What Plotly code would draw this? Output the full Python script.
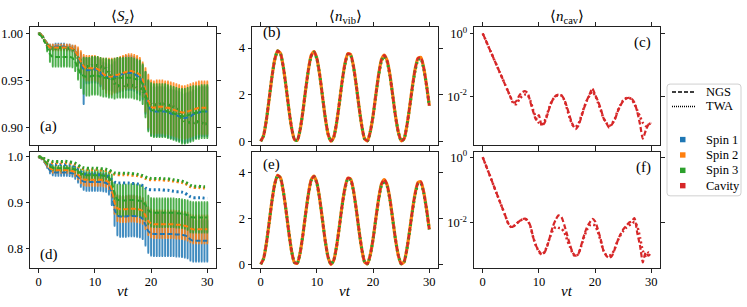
import plotly.graph_objects as go

# ---------------- data ----------------
t = [i * 0.5 for i in range(61)]  # nu*t grid, 0 ... 30

# <S_z>, panel (a)
twa_a = [1.000,0.998,0.993,0.988,0.985,0.984,0.984,0.985,0.985,0.985,
         0.985,0.984,0.983,0.980,0.974,0.969,0.966,0.965,0.965,0.966,
         0.966,0.966,0.965,0.964,0.963,0.959,0.952,0.947,0.945,0.944,
         0.944,0.945,0.945,0.945,0.944,0.943,0.942,0.939,0.933,0.928,
         0.925,0.924,0.924,0.925,0.925,0.925,0.924,0.923,0.922,0.920,
         0.915,0.910,0.907,0.906,0.905,0.905,0.906,0.906,0.905,0.904,
         0.904]
ngs_a1 = [1.000,0.998,0.993,0.988,0.985,0.985,0.986,0.986,0.986,0.986,
          0.985,0.985,0.984,0.981,0.975,0.968,0.962,0.961,0.961,0.962,
          0.962,0.961,0.958,0.955,0.954,0.953,0.953,0.954,0.955,0.956,
          0.957,0.958,0.958,0.958,0.957,0.955,0.953,0.948,0.937,0.924,
          0.918,0.917,0.917,0.917,0.917,0.917,0.916,0.915,0.914,0.913,
          0.912,0.911,0.910,0.911,0.912,0.914,0.915,0.916,0.917,0.917,
          0.917]
ngs_a2 = [1.000,0.998,0.993,0.988,0.985,0.985,0.985,0.985,0.985,0.985,
          0.985,0.985,0.984,0.981,0.976,0.970,0.965,0.963,0.963,0.963,
          0.963,0.962,0.960,0.957,0.955,0.954,0.954,0.955,0.956,0.957,
          0.958,0.959,0.960,0.960,0.959,0.958,0.956,0.951,0.940,0.928,
          0.922,0.921,0.922,0.922,0.922,0.921,0.921,0.920,0.919,0.918,
          0.917,0.916,0.916,0.917,0.918,0.919,0.920,0.921,0.921,0.921,
          0.921]
ngs_a3 = [1.000,0.997,0.992,0.985,0.978,0.975,0.975,0.975,0.975,0.975,
          0.975,0.975,0.974,0.970,0.963,0.957,0.955,0.954,0.954,0.955,
          0.955,0.955,0.954,0.953,0.953,0.952,0.952,0.952,0.953,0.953,
          0.953,0.953,0.953,0.953,0.952,0.951,0.950,0.946,0.935,0.923,
          0.919,0.918,0.918,0.918,0.918,0.918,0.917,0.916,0.915,0.914,
          0.913,0.912,0.912,0.913,0.914,0.915,0.916,0.916,0.917,0.917,
          0.917]
err_a1_up = [0,0,0,0.002,0.003,0.003,0.003,0.003,0.003,0.003,
             0.003,0.003,0.003,0.005,0.008,0.011,0.013,0.013,0.013,0.013,
             0.013,0.013,0.014,0.014,0.014,0.014,0.014,0.016,0.018,0.018,
             0.018,0.018,0.018,0.018,0.018,0.018,0.018,0.018,0.022,0.026,
             0.026,0.026,0.026,0.026,0.026,0.026,0.026,0.026,0.026,0.026,
             0.026,0.026,0.026,0.026,0.026,0.026,0.026,0.026,0.026,0.026,
             0.026]
err_a1_low = [0,0,0,0.002,0.003,0.003,0.003,0.003,0.003,0.003,
              0.003,0.003,0.003,0.005,0.008,0.011,0.037,0.014,0.014,0.014,
              0.014,0.014,0.014,0.014,0.014,0.014,0.014,0.016,0.018,0.018,
              0.018,0.018,0.018,0.018,0.018,0.018,0.018,0.018,0.022,0.026,
              0.026,0.026,0.026,0.026,0.026,0.026,0.026,0.026,0.026,0.026,
              0.026,0.026,0.026,0.026,0.026,0.026,0.026,0.026,0.026,0.026,
              0.026]
err_a2 = [0,0,0,0.002,0.003,0.003,0.003,0.003,0.003,0.003,
          0.003,0.003,0.003,0.006,0.009,0.011,0.012,0.013,0.013,0.013,
          0.013,0.013,0.014,0.016,0.018,0.019,0.019,0.018,0.018,0.018,
          0.018,0.018,0.018,0.018,0.018,0.018,0.018,0.018,0.023,0.028,
          0.028,0.028,0.028,0.028,0.028,0.028,0.028,0.028,0.028,0.028,
          0.028,0.028,0.028,0.028,0.028,0.028,0.028,0.028,0.028,0.028,
          0.028]
err_a3 = [0,0,0,0.004,0.008,0.010,0.010,0.010,0.010,0.010,
          0.010,0.010,0.010,0.010,0.012,0.015,0.019,0.020,0.020,0.020,
          0.020,0.020,0.020,0.020,0.020,0.020,0.020,0.021,0.021,0.021,
          0.021,0.021,0.021,0.021,0.021,0.021,0.021,0.021,0.024,0.027,
          0.028,0.028,0.028,0.028,0.028,0.028,0.028,0.028,0.028,0.028,
          0.028,0.029,0.029,0.029,0.029,0.029,0.028,0.028,0.028,0.028,
          0.028]

# <S_z>, panel (d)
twa_d1 = [1.000,0.998,0.994,0.989,0.985,0.983,0.983,0.983,0.983,0.983,
          0.982,0.982,0.981,0.978,0.973,0.967,0.963,0.962,0.962,0.962,
          0.962,0.961,0.961,0.960,0.959,0.956,0.950,0.945,0.943,0.943,
          0.943,0.943,0.943,0.942,0.942,0.941,0.940,0.937,0.932,0.929,
          0.928,0.928,0.928,0.928,0.928,0.927,0.927,0.926,0.925,0.924,
          0.924,0.923,0.921,0.917,0.913,0.911,0.911,0.911,0.911,0.910,
          0.910]
twa_d2 = [1.000,0.998,0.995,0.991,0.988,0.987,0.987,0.987,0.987,0.987,
          0.987,0.986,0.985,0.983,0.979,0.975,0.973,0.972,0.972,0.972,
          0.972,0.972,0.971,0.971,0.970,0.968,0.965,0.962,0.961,0.961,
          0.961,0.961,0.961,0.960,0.960,0.959,0.958,0.956,0.953,0.951,
          0.950,0.950,0.950,0.950,0.950,0.949,0.949,0.948,0.947,0.946,
          0.945,0.944,0.942,0.939,0.935,0.933,0.933,0.933,0.932,0.932,
          0.932]
twa_d3 = [1.000,0.999,0.996,0.993,0.991,0.990,0.990,0.990,0.990,0.990,
          0.990,0.989,0.988,0.986,0.982,0.978,0.976,0.975,0.975,0.975,
          0.975,0.975,0.974,0.974,0.973,0.971,0.968,0.965,0.964,0.964,
          0.964,0.964,0.964,0.963,0.963,0.962,0.961,0.959,0.956,0.954,
          0.953,0.953,0.953,0.953,0.953,0.952,0.952,0.951,0.950,0.949,
          0.948,0.947,0.945,0.942,0.938,0.936,0.936,0.936,0.935,0.935,
          0.935]
ngs_d1 = [1.000,0.996,0.989,0.979,0.970,0.967,0.966,0.966,0.966,0.966,
          0.966,0.965,0.964,0.961,0.956,0.950,0.946,0.945,0.945,0.945,
          0.945,0.945,0.945,0.944,0.943,0.938,0.920,0.885,0.872,0.870,
          0.870,0.870,0.871,0.871,0.871,0.870,0.869,0.865,0.852,0.838,
          0.833,0.832,0.832,0.832,0.832,0.832,0.832,0.832,0.832,0.831,
          0.831,0.830,0.829,0.826,0.820,0.817,0.817,0.817,0.817,0.817,
          0.817]
ngs_d2 = [1.000,0.997,0.990,0.982,0.975,0.972,0.971,0.971,0.971,0.971,
          0.971,0.970,0.969,0.966,0.961,0.955,0.951,0.950,0.950,0.950,
          0.950,0.950,0.950,0.949,0.948,0.944,0.930,0.900,0.888,0.886,
          0.886,0.886,0.887,0.887,0.887,0.886,0.885,0.882,0.872,0.860,
          0.855,0.853,0.853,0.853,0.853,0.853,0.853,0.853,0.853,0.852,
          0.852,0.851,0.850,0.848,0.844,0.842,0.842,0.842,0.842,0.842,
          0.842]
ngs_d3 = [1.000,0.998,0.992,0.985,0.979,0.976,0.975,0.975,0.975,0.975,
          0.975,0.975,0.974,0.972,0.968,0.964,0.961,0.960,0.960,0.960,
          0.960,0.960,0.960,0.959,0.958,0.955,0.945,0.920,0.907,0.905,
          0.905,0.905,0.906,0.906,0.906,0.905,0.904,0.902,0.895,0.884,
          0.879,0.878,0.878,0.878,0.878,0.878,0.878,0.878,0.878,0.877,
          0.877,0.876,0.875,0.873,0.869,0.868,0.868,0.868,0.868,0.868,
          0.868]
err_d1 = [0,0,0,0.003,0.006,0.007,0.007,0.007,0.007,0.007,
          0.007,0.007,0.007,0.009,0.012,0.015,0.018,0.019,0.019,0.019,
          0.019,0.019,0.019,0.019,0.019,0.020,0.025,0.035,0.043,0.044,
          0.044,0.044,0.044,0.044,0.044,0.044,0.044,0.044,0.045,0.047,
          0.048,0.048,0.048,0.048,0.048,0.048,0.048,0.048,0.048,0.048,
          0.048,0.048,0.048,0.047,0.046,0.045,0.045,0.045,0.045,0.045,
          0.045]
err_d2 = [0,0,0,0.003,0.005,0.006,0.006,0.006,0.006,0.006,
          0.006,0.006,0.006,0.008,0.010,0.012,0.013,0.013,0.013,0.013,
          0.013,0.013,0.013,0.013,0.013,0.014,0.018,0.024,0.028,0.028,
          0.028,0.028,0.028,0.028,0.028,0.028,0.028,0.028,0.029,0.030,
          0.030,0.030,0.030,0.030,0.030,0.030,0.030,0.030,0.030,0.030,
          0.030,0.030,0.030,0.030,0.030,0.030,0.030,0.030,0.030,0.030,
          0.030]
err_d3 = [0,0,0,0.002,0.004,0.005,0.005,0.005,0.005,0.005,
          0.005,0.005,0.005,0.006,0.007,0.008,0.009,0.010,0.010,0.010,
          0.010,0.010,0.010,0.010,0.010,0.011,0.016,0.024,0.032,0.034,
          0.034,0.034,0.034,0.034,0.034,0.034,0.034,0.034,0.033,0.031,
          0.031,0.031,0.031,0.031,0.031,0.031,0.031,0.031,0.031,0.031,
          0.031,0.031,0.031,0.032,0.033,0.033,0.033,0.033,0.033,0.033,
          0.033]

# <n_vib>, panels (b) and (e)
nvib_ngs = [0.00,0.24,0.90,1.81,2.76,3.51,3.88,3.78,3.22,2.36,
            1.40,0.57,0.08,0.04,0.48,1.27,2.22,3.09,3.69,3.85,
            3.55,2.85,1.92,0.99,0.30,0.00,0.18,0.78,1.65,2.59,
            3.34,3.76,3.72,3.23,2.41,1.47,0.64,0.10,0.02,0.41,
            1.11,2.02,2.88,3.51,3.70,3.46,2.84,1.96,1.06,0.38,
            0.02,0.10,0.65,1.46,2.36,3.12,3.57,3.60,3.16,2.42,
            1.53]
nvib_twa = [0.00,0.24,0.90,1.81,2.76,3.50,3.87,3.77,3.21,2.36,
            1.40,0.57,0.08,0.04,0.48,1.27,2.21,3.07,3.66,3.82,
            3.53,2.84,1.92,0.99,0.30,0.00,0.18,0.78,1.64,2.57,
            3.30,3.72,3.68,3.20,2.40,1.47,0.64,0.10,0.02,0.41,
            1.10,2.00,2.84,3.45,3.64,3.41,2.81,1.95,1.06,0.38,
            0.02,0.10,0.64,1.44,2.32,3.06,3.50,3.54,3.12,2.40,
            1.52]

# <n_cav>, panels (c) and (f): log10 of the values read on the log axis
cav_c_ngs_log10 = [0.00,-0.20,-0.41,-0.61,-0.82,-1.02,-1.23,-1.43,-1.64,-1.84,
                   -2.05,-2.20,-2.15,-1.98,-1.88,-1.84,-1.90,-2.20,-2.50,-2.75,
                   -2.60,-2.95,-2.85,-2.60,-2.30,-2.10,-1.98,-1.95,-1.97,-2.10,
                   -2.35,-2.65,-2.90,-3.05,-2.95,-2.70,-2.40,-2.15,-1.95,-1.75,
                   -1.95,-2.15,-2.40,-2.70,-2.85,-3.00,-2.90,-2.75,-2.50,-2.30,
                   -2.15,-2.08,-2.05,-2.08,-2.20,-2.50,-2.90,-3.35,-3.10,-2.90,
                   -2.85]
cav_c_twa_log10 = [0.00,-0.20,-0.41,-0.61,-0.82,-1.02,-1.23,-1.43,-1.64,-1.84,
                   -2.05,-2.25,-2.25,-2.10,-2.00,-1.95,-1.97,-2.15,-2.45,-2.70,
                   -2.85,-2.90,-2.80,-2.55,-2.28,-2.10,-2.00,-1.97,-1.98,-2.12,
                   -2.40,-2.70,-2.92,-2.98,-2.90,-2.65,-2.38,-2.15,-1.98,-1.85,
                   -1.98,-2.20,-2.45,-2.70,-2.85,-2.95,-2.88,-2.72,-2.48,-2.28,
                   -2.13,-2.06,-2.05,-2.10,-2.25,-2.45,-2.65,-2.85,-2.95,-2.90,
                   -2.85]
cav_f_ngs_log10 = [0.00,-0.22,-0.44,-0.66,-0.89,-1.11,-1.33,-1.55,-1.77,-2.00,
                   -2.12,-2.10,-2.02,-1.95,-1.89,-1.87,-1.92,-2.10,-2.45,-2.70,
                   -2.85,-2.97,-2.90,-2.70,-2.40,-2.10,-1.90,-1.77,-1.82,-2.05,
                   -2.35,-2.65,-2.90,-3.00,-2.95,-2.70,-2.40,-2.15,-2.00,-1.88,
                   -1.95,-2.20,-2.50,-2.85,-3.00,-3.07,-3.00,-2.80,-2.55,-2.35,
                   -2.20,-2.10,-2.00,-1.95,-1.85,-2.30,-2.70,-3.20,-2.90,-3.00,
                   -2.90]
cav_f_twa_log10 = [0.00,-0.22,-0.44,-0.66,-0.89,-1.11,-1.33,-1.55,-1.77,-2.00,
                   -2.12,-2.10,-2.02,-1.95,-1.90,-1.88,-1.93,-2.12,-2.45,-2.70,
                   -2.88,-2.95,-2.88,-2.68,-2.42,-2.22,-2.12,-2.15,-2.17,-2.28,
                   -2.50,-2.72,-2.92,-3.02,-2.95,-2.72,-2.45,-2.22,-2.08,-2.05,
                   -2.08,-2.28,-2.55,-2.85,-2.98,-3.00,-2.95,-2.78,-2.55,-2.38,
                   -2.25,-2.15,-2.08,-2.03,-1.97,-2.10,-2.45,-2.85,-3.00,-2.90,
                   -2.95]

x_ticks = [0, 10, 20, 30]
series_names = ["Spin 1", "Spin 2", "Spin 3", "Cavity"]
method_names = ["NGS", "TWA"]
panel_labels = ["(a)", "(b)", "(c)", "(d)", "(e)", "(f)"]
titles = ["⟨<i>S<sub>z</sub></i>⟩", "⟨<i>n</i><sub>vib</sub>⟩", "⟨<i>n</i><sub>cav</sub>⟩"]

# ---------------- styling ----------------
C = ["#1f77b4", "#ff7f0e", "#2ca02c", "#d62728"]
C_ERR = ["rgba(31,119,180,0.85)", "rgba(255,127,14,0.85)", "rgba(44,160,44,0.85)"]
FONT = "Liberation Serif"
DASH = "5px,2.5px"
DOT = "2px,2.6px"
W, H = 747, 307

def fx(px):
    return px / W

def fy(px):
    return 1 - px / H

colx = [(30, 216), (252, 438), (474, 660)]
rowy = [(24.3, 145.3), (151.7, 270.7)]

fig = go.Figure()

def add_line(ax, x, y, color, dash, width):
    fig.add_trace(go.Scatter(x=x, y=y, xaxis="x" + ax, yaxis="y" + ax, mode="lines",
                             line=dict(color=color, dash=dash, width=width, shape="spline", smoothing=0.6),
                             showlegend=False, hoverinfo="skip"))

def add_err(ax, x, y, err_up, err_low, color):
    fig.add_trace(go.Scatter(x=x, y=y, xaxis="x" + ax, yaxis="y" + ax, mode="markers",
                             marker=dict(size=2, color="rgba(0,0,0,0)"),
                             error_y=dict(type="data", symmetric=False, array=err_up, arrayminus=err_low,
                                          visible=True, color=color, thickness=2, width=0.8),
                             showlegend=False, hoverinfo="skip"))

# panel (a)
add_err("", t, ngs_a1, err_a1_up, err_a1_low, C_ERR[0])
add_err("", t, ngs_a2, err_a2, err_a2, C_ERR[1])
add_err("", t, ngs_a3, err_a3, err_a3, C_ERR[2])
for c in C[:3]:
    add_line("", t, twa_a, c, DOT, 3)
for y, c in zip([ngs_a1, ngs_a2, ngs_a3], C[:3]):
    add_line("", t, y, c, DASH, 2)

# panel (d)
for y, e, c in zip([ngs_d1, ngs_d2, ngs_d3], [err_d1, err_d2, err_d3], C_ERR):
    add_err("4", t, y, e, e, c)
for y, c in zip([twa_d1, twa_d2, twa_d3], C[:3]):
    add_line("4", t, y, c, DOT, 3)
for y, c in zip([ngs_d1, ngs_d2, ngs_d3], C[:3]):
    add_line("4", t, y, c, DASH, 2)

# panels (b), (e)
for ax in ["2", "5"]:
    add_line(ax, t, nvib_ngs, C[1], "solid", 3.2)
    add_line(ax, t, nvib_twa, C[2], DOT, 3)
    add_line(ax, t, nvib_ngs, C[3], DASH, 2.2)

# panels (c), (f)
for ax, ngs, twa in [("3", cav_c_ngs_log10, cav_c_twa_log10), ("6", cav_f_ngs_log10, cav_f_twa_log10)]:
    add_line(ax, t, [10 ** v for v in twa], C[3], DOT, 2.5)
    add_line(ax, t, [10 ** v for v in ngs], C[3], DASH, 2.2)

axis_common = dict(showline=True, linecolor="#222", linewidth=1, mirror="allticks",
                   ticks="outside", ticklen=3.5, tickwidth=1, tickcolor="#222",
                   showgrid=False, zeroline=False,
                   tickfont=dict(family=FONT, size=12.5, color="black"))

layout = dict(width=W, height=H, margin=dict(l=0, r=0, t=0, b=0),
              paper_bgcolor="white", plot_bgcolor="white", showlegend=False,
              font=dict(family=FONT, color="black"))

yspec = {
    "": dict(range=[0.881, 1.007], tickvals=[0.90, 0.95, 1.00], tickformat=".2f"),
    "2": dict(range=[-0.18, 4.91], tickvals=[0, 2, 4]),
    "3": dict(type="log", range=[-3.57, 0.21], tickvals=[1, 0.01], ticktext=["10<sup>0</sup>", "10<sup>-2</sup>"]),
    "4": dict(range=[0.757, 1.011], tickvals=[0.8, 0.9, 1.0], tickformat=".1f"),
    "5": dict(range=[-0.18, 4.91], tickvals=[0, 2, 4]),
    "6": dict(type="log", range=[-3.385, 0.167], tickvals=[1, 0.01], ticktext=["10<sup>0</sup>", "10<sup>-2</sup>"]),
}
axes = ["", "2", "3", "4", "5", "6"]
for i, ax in enumerate(axes):
    r, c = divmod(i, 3)
    x0, x1 = colx[c]
    y0, y1 = rowy[r]
    layout["xaxis" + ax] = dict(axis_common, domain=[fx(x0), fx(x1)], range=[-1.55, 31.55],
                                tickvals=x_ticks, showticklabels=(r == 1),
                                ticklabelstandoff=-2, anchor="y" + ax)
    layout["yaxis" + ax] = dict(axis_common, domain=[fy(y1), fy(y0)], anchor="x" + ax, **yspec[ax])

ann = []
shapes = []
for c, title in enumerate(titles):
    x0, x1 = colx[c]
    ann.append(dict(x=fx((x0 + x1) / 2), y=fy(14), xref="paper", yref="paper",
                    text=title, showarrow=False, font=dict(family=FONT, size=15),
                    xanchor="center", yanchor="middle"))
    ann.append(dict(x=fx((x0 + x1) / 2), y=fy(294), xref="paper", yref="paper",
                    text="<i>νt</i>", showarrow=False, font=dict(family=FONT, size=15),
                    xanchor="center", yanchor="middle"))
label_pos = [(0.045, 0.157, "left"), (0.05, 0.955, "left"), (0.965, 0.87, "right"),
             (0.045, 0.12, "left"), (0.05, 0.89, "left"), (0.965, 0.864, "right")]
for i, (lx, ly, anc) in enumerate(label_pos):
    ax = axes[i]
    ann.append(dict(x=lx, y=ly, xref=("x" + ax + " domain"), yref=("y" + ax + " domain"),
                    text=panel_labels[i], showarrow=False, font=dict(family=FONT, size=15),
                    xanchor=anc, yanchor="middle"))

# legend box (drawn by hand to match the reference layout), rounded corners
lx0, lx1, ly0, ly1, rr = 667, 741, 82.7, 196.7, 3
path = (f"M {fx(lx0 + rr)},{fy(ly0)} L {fx(lx1 - rr)},{fy(ly0)} Q {fx(lx1)},{fy(ly0)} {fx(lx1)},{fy(ly0 + rr)} "
        f"L {fx(lx1)},{fy(ly1 - rr)} Q {fx(lx1)},{fy(ly1)} {fx(lx1 - rr)},{fy(ly1)} "
        f"L {fx(lx0 + rr)},{fy(ly1)} Q {fx(lx0)},{fy(ly1)} {fx(lx0)},{fy(ly1 - rr)} "
        f"L {fx(lx0)},{fy(ly0 + rr)} Q {fx(lx0)},{fy(ly0)} {fx(lx0 + rr)},{fy(ly0)} Z")
shapes.append(dict(type="path", xref="paper", yref="paper", path=path,
                   line=dict(color="#d0d0d0", width=1), fillcolor="white", layer="above"))
for name, yy, dash in zip(method_names, [90.7, 105.5], ["4px,2px", "1px,1px"]):
    shapes.append(dict(type="line", xref="paper", yref="paper", x0=fx(672), x1=fx(695),
                       y0=fy(yy), y1=fy(yy), line=dict(color="black", width=1.5, dash=dash),
                       layer="above"))
    ann.append(dict(x=fx(703.5), y=fy(yy), xref="paper", yref="paper", text=name,
                    showarrow=False, font=dict(family=FONT, size=12.5),
                    xanchor="left", yanchor="middle"))
for name, yy, col in zip(series_names, [139.3, 155.0, 170.7, 186.3], C):
    shapes.append(dict(type="rect", xref="paper", yref="paper", x0=fx(680), x1=fx(685.5),
                       y0=fy(yy + 2.75), y1=fy(yy - 2.75), line=dict(width=0),
                       fillcolor=col, layer="above"))
    ann.append(dict(x=fx(703.5), y=fy(yy), xref="paper", yref="paper", text=name,
                    showarrow=False, font=dict(family=FONT, size=12.5),
                    xanchor="left", yanchor="middle"))

layout["annotations"] = ann
layout["shapes"] = shapes

fig.update_layout(**layout)
fig.write_html("out.html", config={"displayModeBar": False},
               post_script="document.body.style.margin='0';document.body.style.overflow='hidden';")
